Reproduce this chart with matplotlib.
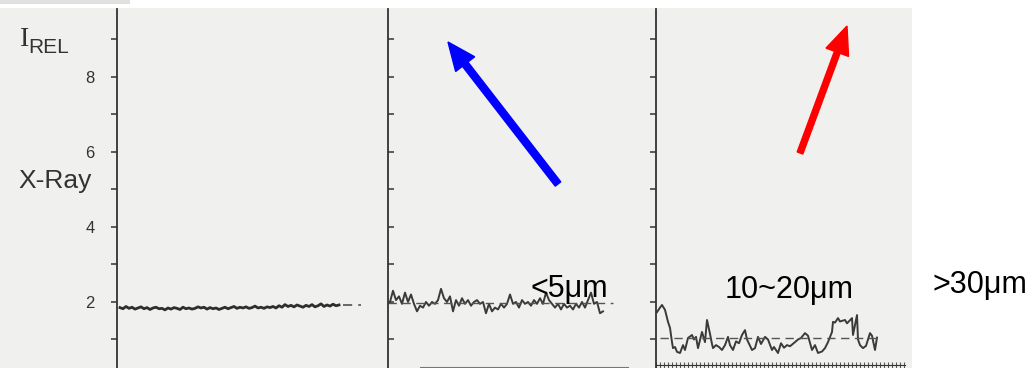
import numpy as np
import matplotlib
matplotlib.use("Agg")
import matplotlib.pyplot as plt
from matplotlib.patches import Rectangle, FancyArrow

plt.rcParams['font.family'] = ['Liberation Sans', 'DejaVu Sans']

W, H = 1032, 368
# scan traces, x = position along the scan, y = relative X-ray intensity
p1_y = [1.85, 1.82, 1.88, 1.83, 1.86, 1.81, 1.84, 1.87, 1.82, 1.85, 1.80, 1.84, 1.86,
        1.82, 1.83, 1.79, 1.84, 1.81, 1.85, 1.83, 1.80, 1.86, 1.82, 1.84, 1.81, 1.83,
        1.87, 1.84, 1.86, 1.81, 1.85, 1.82, 1.84, 1.80, 1.83, 1.86, 1.82, 1.85, 1.88,
        1.83, 1.86, 1.84, 1.87, 1.83, 1.85, 1.89, 1.84, 1.86, 1.83, 1.87, 1.85, 1.88,
        1.84, 1.90, 1.86, 1.93, 1.88, 1.91, 1.87, 1.92, 1.89, 1.86, 1.91, 1.88, 1.93,
        1.87, 1.90, 1.95, 1.88, 1.92, 1.89, 1.94, 1.90, 1.92]
p1_x = np.arange(len(p1_y)) * 3 + 3
p1_ref = 1.92

p2_y = [2.0, 2.3, 2.05, 2.15, 1.95, 2.25, 2.0, 2.2, 1.95, 1.75, 1.9, 1.85, 2.0, 1.9,
        2.0, 1.95, 2.05, 2.35, 2.1, 2.0, 2.15, 1.75, 2.05, 1.9, 2.1, 1.95, 2.05, 1.9,
        2.0, 2.05, 1.95, 2.0, 1.7, 1.95, 1.75, 1.85, 1.8, 1.95, 1.85, 1.95, 2.2, 1.95,
        2.0, 1.85, 2.05, 1.95, 2.0, 1.9, 2.05, 1.95, 2.1, 1.95, 2.25, 2.05, 1.95, 1.85,
        1.95, 1.8, 1.95, 1.85, 1.9, 1.8, 1.95, 1.85, 2.0, 1.85, 2.05, 2.25, 1.95, 2.0,
        1.7, 1.75]
p2_x = np.arange(len(p2_y)) * 3 + 2
p2_ref = 1.98

p3_x = [1, 4, 6, 9, 12, 14, 16, 17, 19, 21, 24, 27, 29, 32, 36, 38, 40, 42, 46, 49,
        51, 54, 56, 57, 60, 63, 66, 69, 72, 74, 77, 80, 83, 86, 89, 91, 96, 99, 102,
        105, 109, 112, 116, 118, 122, 125, 128, 131, 134, 139, 142, 145, 149, 152, 156,
        159, 162, 166, 169, 172, 176, 177, 179, 182, 184, 189, 191, 196, 197, 201, 202,
        204, 207, 210, 214, 216, 219, 221]
p3_y = [1.73, 1.85, 1.92, 1.79, 1.47, 1.31, 0.93, 0.77, 0.8, 0.67, 0.64, 0.85, 0.72,
        1.04, 1.12, 1.0, 1.07, 0.77, 1.2, 0.93, 1.52, 1.15, 0.88, 0.77, 0.85, 0.8, 0.72,
        0.85, 1.07, 0.85, 0.72, 0.95, 0.9, 1.12, 1.25, 1.0, 0.72, 0.77, 1.07, 0.88, 1.07,
        1.0, 0.72, 0.8, 0.64, 0.9, 0.78, 0.85, 0.82, 0.93, 1.0, 1.04, 1.17, 1.1, 0.72,
        0.85, 0.64, 0.68, 0.77, 0.93, 1.2, 1.47, 1.45, 1.57, 1.48, 1.52, 1.43, 1.57, 1.12,
        1.65, 1.0, 0.85, 0.77, 0.83, 1.17, 1.1, 0.72, 1.05]
p3_ref = 1.04

labels = ['<5\u03bcm', '10~20\u03bcm', '>30\u03bcm']
yticks_major = [2, 4, 6, 8]
yticks_all = [1, 2, 3, 4, 5, 6, 7, 8, 9]

fig = plt.figure(figsize=(W / 100, H / 100), dpi=100, facecolor='white')

# scanned paper background
fig.patches.append(Rectangle((0, 0), 912 / W, 1 - 8 / H, transform=fig.transFigure,
                             facecolor='#f0f0ef', edgecolor='none', zorder=-5))
fig.patches.append(Rectangle((0, 1 - 4 / H), 130 / W, 4 / H, transform=fig.transFigure,
                             facecolor='#e0e0e0', edgecolor='none', zorder=-4))

ink = '#333333'
lefts = [117, 388, 656]
axes = []
for i, left in enumerate(lefts):
    ax = fig.add_axes([left / W, 0, 268 / W, (H - 9) / H])
    ax.set_facecolor('none')
    ax.set_xlim(0, 268)
    ax.set_ylim(0.24, 9.81)
    for s in ['top', 'right', 'bottom']:
        ax.spines[s].set_visible(False)
    ax.spines['left'].set_color(ink)
    ax.spines['left'].set_linewidth(1.3)
    ax.set_yticks(yticks_all)
    ax.tick_params(axis='y', direction='in' if i == 1 else 'out', length=4, width=1.1,
                   color=ink, labelleft=False)
    ax.set_xticks([])
    axes.append(ax)

ax1, ax2, ax3 = axes
ax1.set_yticks(yticks_all)
ax1.set_yticklabels([str(t) if t in yticks_major else '' for t in yticks_all])
ax1.tick_params(axis='y', labelleft=True, labelsize=12, labelcolor=ink, pad=12)

ax1.plot(p1_x, p1_y, color='#2e2e2e', lw=2.0)
ax1.plot([226, 244], [p1_ref, p1_ref], color='#444444', lw=1.1, dashes=(6, 4))

ax2.plot(p2_x, p2_y, color='#3a3a3a', lw=1.4)
ax2.plot([0, 225], [p2_ref, p2_ref], color='#555555', lw=1.0, dashes=(6, 4))
ax2.spines['bottom'].set_visible(True)
ax2.spines['bottom'].set_position(('data', 0.27))
ax2.spines['bottom'].set_bounds(32, 240)
ax2.spines['bottom'].set_color('#777777')

ax3.plot(p3_x, p3_y, color='#3a3a3a', lw=1.4)
ax3.plot([4, 226], [p3_ref, p3_ref], color='#555555', lw=1.0, dashes=(6, 4))
ax3.spines['bottom'].set_visible(True)
ax3.spines['bottom'].set_position(('data', 0.32))
ax3.spines['bottom'].set_bounds(0, 249)
ax3.spines['bottom'].set_color(ink)
ax3.set_xticks(np.arange(0, 250, 4))
ax3.tick_params(axis='x', direction='inout', length=5, width=0.8, color='#555555',
                labelbottom=False)

# axis titles
fig.text(20 / W, 1 - 46 / H, 'I', family='Liberation Serif', fontsize=20, color=ink,
         va='baseline', ha='left')
fig.text(28 / W, 1 - 53 / H, 'REL', fontsize=15, color=ink, va='baseline', ha='left')
fig.text(18 / W, 1 - 188 / H, 'X-Ray', fontsize=19, color=ink, va='baseline', ha='left')

# size labels
for (x, y), t in zip([(530, 297), (725, 298), (932, 293)], labels):
    fig.text(x / W, 1 - y / H, t, fontsize=22, color='black', va='baseline', ha='left')

# arrows (figure pixels -> inches)
def add_arrow(tail, tip, color, width):
    x0, y0 = tail[0] / 100, (H - tail[1]) / 100
    dx, dy = (tip[0] - tail[0]) / 100, -(tip[1] - tail[1]) / 100
    fig.patches.append(FancyArrow(x0, y0, dx, dy, width=width, head_width=0.24,
                                  head_length=0.28, length_includes_head=True,
                                  color=color, transform=fig.dpi_scale_trans))

add_arrow((558, 184), (448, 42), 'blue', 0.07)
add_arrow((800, 153), (847, 26), 'red', 0.06)

fig.savefig('out.png', dpi=100, facecolor=fig.get_facecolor())
